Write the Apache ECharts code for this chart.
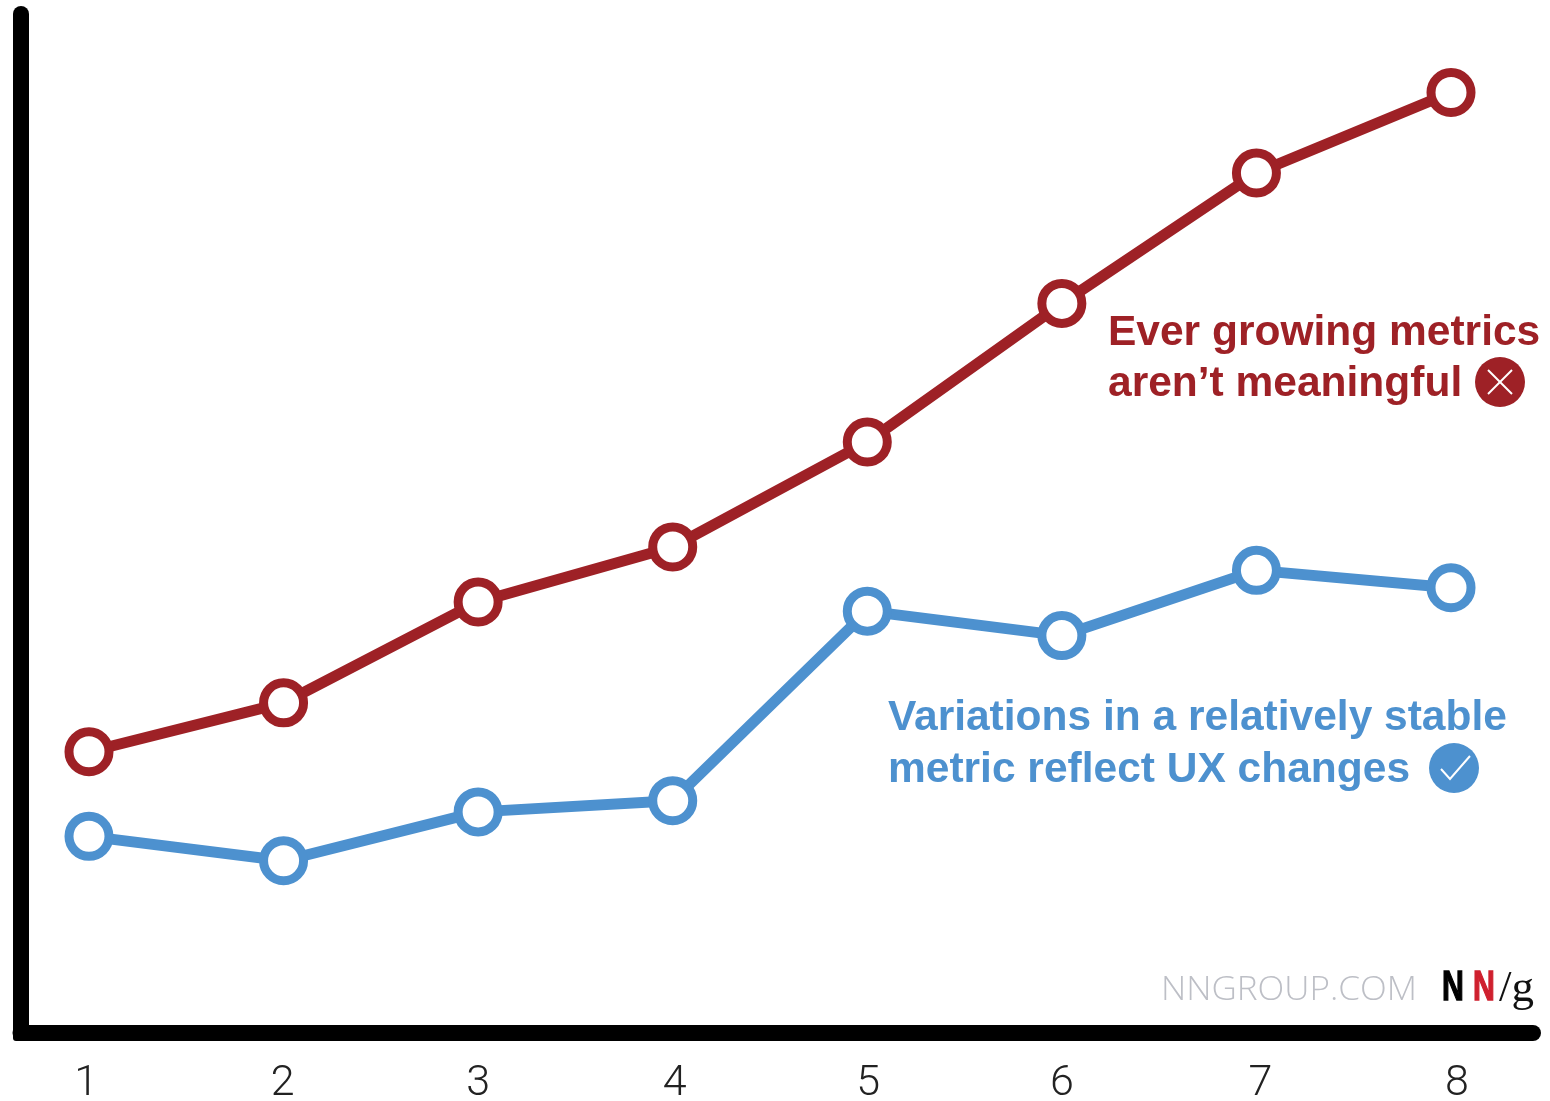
<!DOCTYPE html>
<html><head><meta charset="utf-8">
<style>html,body{margin:0;padding:0;background:#fff}#c{width:1550px;height:1101px}</style>
<script src="https://cdn.jsdelivr.net/npm/echarts@6/dist/echarts.min.js"></script>
</head><body><div id="c"></div>
<script>
const xTicks = [1,2,3,4,5,6,7,8];
const growing = [27.6,32.4,42.3,47.7,58.0,71.6,84.4,92.3];
const stable = [19.3,16.9,21.7,22.8,41.4,39.0,45.4,43.7];
const labelNudge = [-0.015,-0.005,0,0.01,0.005,0,0.02,0.03];
const RED = '#9E2126', BLUE = '#4D91CF';
const zip = a => a.map((v,i)=>[xTicks[i],v]);
const mk = (name,data,color)=>({type:'line',name,data:zip(data),symbol:'circle',symbolSize:40,showSymbol:true,
  lineStyle:{color,width:11},itemStyle:{color:'#fff',borderColor:color,borderWidth:9},clip:false,animation:false,silent:true});
const t = (x,y,text,fill,font,extra,st)=>Object.assign({type:'text',x,y,style:Object.assign({text,fill,font,textVerticalAlign:'middle'},st||{}),silent:true},extra||{});
const chart = echarts.init(document.getElementById('c'),null,{renderer:'canvas'});
const W='bold 42.5px "Liberation Sans"';
chart.setOption({
  animation:false,
  backgroundColor:'#fff',
  grid:{left:20.5,top:14,width:1512.5,height:1019,containLabel:false,outerBoundsMode:'none'},
  xAxis:{type:'value',min:0.648,max:8.4214,splitLine:{show:false},
    axisLine:{show:true,onZero:false,lineStyle:{color:'#000',width:16,cap:'round'}},
    axisTick:{show:false},
    axisLabel:{customValues:xTicks.map((v,i)=>v+labelNudge[i]),formatter:v=>String(Math.round(v)),margin:30,color:'#222',fontFamily:'Roboto',fontWeight:300,fontSize:43}},
  yAxis:{type:'value',min:0,max:100,splitLine:{show:false},axisTick:{show:false},axisLabel:{show:false},
    axisLine:{show:true,onZero:false,lineStyle:{color:'#000',width:16,cap:'round'}}},
  series:[mk('Ever growing metrics',growing,RED),mk('Stable metric',stable,BLUE)],
  graphic:[
    {type:'rect',shape:{x:13,y:1025,width:16,height:16,r:3},style:{fill:'#000'},z:10,silent:true},
    t(1108,333,'Ever growing metrics',RED,W),
    t(1108,384,'aren\u2019t meaningful',RED,W),
    {type:'circle',shape:{cx:1500,cy:382,r:25},style:{fill:RED},silent:true},
    {type:'line',shape:{x1:1488,y1:370,x2:1512,y2:394},style:{stroke:'#fff',lineWidth:2},silent:true},
    {type:'line',shape:{x1:1512,y1:370,x2:1488,y2:394},style:{stroke:'#fff',lineWidth:2},silent:true},
    t(888,718,'Variations in a relatively stable',BLUE,W),
    t(888,770,'metric reflect UX changes',BLUE,W),
    {type:'circle',shape:{cx:1454,cy:768,r:25},style:{fill:BLUE},silent:true},
    {type:'polyline',shape:{points:[[1441,769],[1450,779],[1470,756]]},style:{stroke:'#fff',lineWidth:2,fill:'none'},silent:true},
    t(1161,990,'NNGROUP.COM','#BDBFC6','300 33.5px "Open Sans"',{scaleX:1.045}),
    t(1442,988,'N','#000','bold 42px "Liberation Sans"',{scaleX:0.72},{stroke:'#000',lineWidth:1.5}),
    t(1473,988,'N','#CF202E','bold 42px "Liberation Sans"',{scaleX:0.72},{stroke:'#CF202E',lineWidth:1.5}),
    t(1499,989,'/g','#111','45px "Liberation Serif"')
  ]
});
</script></body></html>
